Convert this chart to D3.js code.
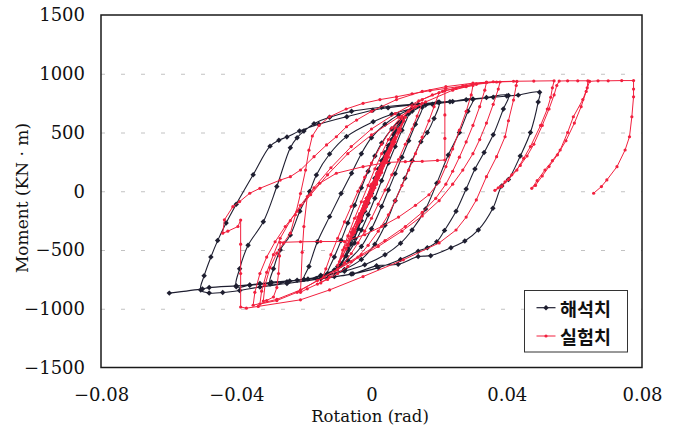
<!DOCTYPE html>
<html>
<head>
<meta charset="utf-8">
<script src="https://cdn.jsdelivr.net/npm/d3@7"></script>
<style>
  body { margin: 0; background: #fff; }
  svg { display: block; }
</style>
</head>
<body>
<svg id="chart" width="677" height="428"></svg>
<script>
// Axis ticks and labels
const xTicks = [-0.08, -0.04, 0, 0.04, 0.08];
const xTickLabels = ["\u22120.08", "\u22120.04", "0", "0.04", "0.08"];
const yTicks = [-1500, -1000, -500, 0, 500, 1000, 1500];
const yTickLabels = ["\u22121500", "\u22121000", "\u2212500", "0", "500", "1000", "1500"];
const gridValues = [-1000, -500, 0, 500, 1000];
const seriesNames = ["해석치", "실험치"];
const xTitle = "Rotation (rad)";
const yTitle = "Moment (KN \u00B7 m)";

// Analysis result: [rotation (rad), moment (kN·m)] along the loading history
const analysis = [
  [0,0],[0.002,160],[0.004,330],
  [0.002,190],[0,40],[-0.002,-120],[-0.0035,-260],[-0.005,-400],
  [-0.003,-250],[-0.001,-100],[0.001,60],[0.003,210],[0.005,370],[0.0065,480],[0.008,580],
  [0.006,440],[0.004,290],[0.002,140],[0,-20],[-0.002,-170],[-0.004,-320],[-0.006,-450],[-0.0075,-550],[-0.009,-630],
  [-0.007,-490],[-0.005,-350],[-0.003,-200],[-0.001,-50],[0.001,110],[0.003,260],[0.005,390],[0.007,500],[0.009,590],[0.011,660],
  [0.009,520],[0.007,380],[0.005,240],[0.003,90],[0.001,-60],[-0.001,-200],[-0.003,-330],[-0.005,-440],[-0.0075,-550],[-0.010,-640],[-0.013,-700],
  [-0.011,-560],[-0.009,-420],[-0.007,-270],[-0.005,-120],[-0.003,30],[-0.001,170],[0.001,300],[0.003,410],[0.006,530],[0.009,620],[0.012,680],[0.015,715],
  [0.013,570],[0.011,430],[0.009,290],[0.007,150],[0.005,10],[0.003,-130],[0,-320],[-0.003,-470],[-0.007,-590],[-0.011,-670],[-0.015,-715],[-0.020,-750],
  [-0.0185,-640],[-0.016,-430],[-0.0124,-216],[-0.009,-20],[-0.0059,153],[-0.003,320],[0,456],[0.004,570],[0.008,650],[0.012,700],[0.016,735],[0.020,757],
  [0.0185,620],[0.0165,500],[0.0146,422],[0.012,260],[0.0099,110],[0.007,-80],[0.004,-290],[0.001,-450],[-0.003,-580],[-0.008,-665],[-0.013,-710],[-0.020,-750],[-0.025,-770],[-0.030,-790],
  [-0.029,-660],[-0.027,-500],[-0.024,-372],[-0.0212,-170],[-0.0183,-3],[-0.0163,139],[-0.0124,317],[-0.0074,465],[0.0005,592],[0.006,655],[0.012,705],[0.018,740],[0.024,763],[0.030,785],
  [0.0285,680],[0.026,500],[0.0227,309],[0.0193,68],[0.016,-150],[0.012,-330],[0.0086,-442],[0.004,-540],[-0.002,-625],[-0.008,-680],[-0.015,-725],[-0.022,-758],[-0.030,-785],[-0.036,-800],[-0.040,-812],
  [-0.039,-660],[-0.0365,-460],[-0.032,-260],[-0.028,40],[-0.024,371],[-0.022,456],[-0.020,512],[-0.017,575],[-0.0124,630],[-0.0059,680],[0.003,715],[0.012,740],[0.020,757],[0.028,778],[0.034,798],[0.0405,815],
  [0.039,700],[0.036,480],[0.0333,330],[0.0306,189],[0.028,20],[0.025,-170],[0.0216,-333],[0.0193,-430],[0.0165,-480],[0.0138,-510],[0.0086,-580],[0.002,-650],[-0.006,-705],[-0.015,-745],[-0.025,-785],[-0.033,-815],[-0.039,-845],[-0.044,-862],[-0.048,-866],[-0.0505,-840],
  [-0.0495,-720],[-0.0475,-560],[-0.0455,-420],[-0.043,-270],[-0.040,-110],[-0.035,140],[-0.030,384],[-0.0274,435],[-0.025,461],[-0.0213,512],[-0.0156,570],[-0.0073,635],[0.0004,690],[0.0049,711],[0.0138,740],[0.0197,757],[0.0232,762],[0.030,782],[0.036,800],[0.040,810],[0.0434,818],[0.0497,842],
  [0.0493,760],[0.047,500],[0.044,300],[0.0405,100],[0.0385,45],[0.0359,-144],[0.0316,-329],[0.0276,-423],[0.0235,-480],[0.0175,-548],[0.0138,-556],[0.0079,-621],[0.0015,-635],[-0.0055,-703],[-0.011,-726],[-0.0163,-743],[-0.0188,-746],[-0.0242,-763],[-0.0296,-774],[-0.033,-786],[-0.036,-797],[-0.040,-805],[-0.048,-820],[-0.050,-831],[-0.0598,-867]
];

// Test result: [rotation (rad), moment (kN·m)] along the loading history
const experiment = [
  [0,0],[0.0015,95],[0.003,190],
  [0.0015,60],[0,-40],[-0.0015,-130],[-0.003,-190],
  [-0.0015,-60],[0,40],[0.0015,130],[0.003,200],
  [0.0015,70],[0,-35],[-0.0015,-130],[-0.003,-200],
  [-0.0015,-60],[0,60],[0.0015,150],[0.003,240],[0.005,330],
  [0.0035,220],[0.002,110],[0,-30],[-0.002,-160],[-0.0035,-250],[-0.005,-330],
  [-0.0035,-200],[-0.002,-100],[0,40],[0.002,160],[0.0035,250],[0.005,340],
  [0.0035,230],[0.002,120],[0,-30],[-0.002,-160],[-0.0035,-260],[-0.005,-340],
  [-0.003,-180],[-0.001,-50],[0.001,80],[0.003,210],[0.005,330],[0.007,450],
  [0.0055,350],[0.004,250],[0.002,120],[0,-10],[-0.002,-140],[-0.004,-260],[-0.0055,-360],[-0.007,-450],
  [-0.0055,-330],[-0.004,-220],[-0.002,-90],[0,40],[0.002,160],[0.004,280],[0.0055,370],[0.007,460],
  [0.0055,360],[0.004,260],[0.002,130],[0,0],[-0.002,-130],[-0.004,-260],[-0.0055,-360],[-0.007,-460],
  [-0.0055,-320],[-0.0035,-190],[-0.0015,-60],[0.0005,70],[0.0025,200],[0.0045,320],[0.0065,440],[0.008,530],[0.0095,600],
  [0.008,500],[0.0065,400],[0.0045,270],[0.0025,140],[0.0005,10],[-0.0015,-120],[-0.0035,-250],[-0.0055,-370],[-0.0075,-490],[-0.0095,-600],
  [-0.008,-480],[-0.006,-350],[-0.004,-220],[-0.002,-90],[0,40],[0.002,170],[0.004,300],[0.006,420],[0.008,530],[0.010,630],
  [0.0085,520],[0.007,420],[0.005,290],[0.003,160],[0.001,30],[-0.001,-100],[-0.003,-230],[-0.005,-350],[-0.007,-460],[-0.0085,-550],[-0.010,-630],
  [-0.0085,-500],[-0.007,-380],[-0.005,-230],[-0.003,-90],[-0.001,50],[0.001,190],[0.003,320],[0.005,440],[0.007,540],[0.009,620],[0.011,680],[0.013,720],[0.015,750],
  [0.0135,640],[0.012,530],[0.010,400],[0.008,270],[0.006,140],[0.004,10],[0.002,-110],[0,-230],[-0.002,-340],[-0.004,-440],[-0.006,-530],[-0.008,-610],[-0.010,-670],[-0.0125,-730],[-0.015,-780],
  [-0.0135,-660],[-0.012,-540],[-0.010,-400],[-0.008,-260],[-0.006,-130],[-0.004,0],[-0.002,120],[0,240],[0.003,400],[0.006,540],[0.009,640],[0.012,720],[0.015,780],[0.018,820],[0.020,840],
  [0.0185,720],[0.017,600],[0.015,460],[0.013,320],[0.011,180],[0.009,50],[0.007,-80],[0.005,-200],[0.002,-340],[-0.001,-460],[-0.004,-560],[-0.007,-640],[-0.010,-700],[-0.013,-750],[-0.016,-790],[-0.019,-830],[-0.021,-860],
  [-0.0205,-520],[-0.020,-300],[-0.019,-46],[-0.0153,68],[-0.0104,153],[-0.0025,209],[0.0045,245],[0.010,252],[0.015,255],[0.0195,262],[0.0217,266],[0.0217,450],[0.0217,650],[0.0217,856],[0.025,875],[0.028,890],[0.030,900],
  [0.0295,820],[0.028,680],[0.026,520],[0.024,360],[0.022,210],[0.020,80],[0.017,-30],[0.013,-120],[0.008,-220],[0.003,-300],[-0.002,-370],[-0.008,-428],[-0.015,-428],[-0.021,-430],[-0.027,-435],[-0.0272,-550],[-0.0275,-700],[-0.028,-820],[-0.029,-900],[-0.031,-930],[-0.032,-935],
  [-0.0315,-800],[-0.030,-650],[-0.028,-527],[-0.026,-440],[-0.024,-357],[-0.0225,-200],[-0.021,-20],[-0.0195,180],[-0.0185,350],[-0.0175,470],[-0.0155,560],[-0.0124,634],[-0.0075,700],[-0.0025,748],[0.0025,780],[0.0074,804],[0.012,830],[0.0173,856],[0.022,875],[0.027,895],[0.031,915],[0.034,928],
  [0.0335,860],[0.032,720],[0.030,560],[0.028,420],[0.026,290],[0.024,170],[0.022,60],[0.019,-60],[0.015,-180],[0.010,-300],[0.004,-420],[-0.003,-540],[-0.010,-660],[-0.016,-760],[-0.022,-860],[-0.028,-930],[-0.033,-960],
  [-0.0325,-850],[-0.031,-690],[-0.029,-540],[-0.027,-400],[-0.024,-250],[-0.021,-120],[-0.017,30],[-0.012,200],[-0.006,380],[0,530],[0.007,660],[0.014,770],[0.021,850],[0.028,900],[0.034,925],[0.038,930],
  [0.0375,870],[0.036,740],[0.034,580],[0.032,440],[0.030,320],[0.027,180],[0.024,60],[0.020,-80],[0.015,-210],[0.009,-340],[0.002,-470],[-0.006,-600],[-0.014,-730],[-0.021,-840],[-0.028,-920],[-0.035,-970],
  [-0.0345,-860],[-0.033,-700],[-0.031,-560],[-0.0285,-430],[-0.0255,-300],[-0.022,-170],[-0.018,-30],[-0.013,140],[-0.007,320],[0,480],[0.008,630],[0.016,760],[0.024,860],[0.031,910],[0.037,930],[0.043,935],
  [0.0428,900],[0.042,776],[0.0405,600],[0.0395,464],[0.037,294],[0.034,124],[0.031,-74],[0.028,-220],[0.025,-330],[0.020,-440],[0.0094,-584],[-0.0025,-726],[-0.0124,-840],[-0.021,-924],[-0.0335,-980],[-0.037,-995],[-0.0387,-985],
  [-0.0387,-700],[-0.0387,-450],[-0.0387,-245],[-0.0395,-300],[-0.0425,-340],[-0.044,-357],[-0.0435,-243],[-0.041,-131],[-0.039,-88],[-0.036,-17],[-0.033,25],[-0.027,95],[-0.024,124],[-0.021,181],[-0.017,294],[-0.0133,394],[-0.0104,464],[-0.0074,549],[-0.0044,606],[0,680],[0.0074,780],[0.015,850],[0.022,890],[0.030,920],[0.036,932],[0.042,936],[0.048,938],[0.054,940],
  [0.0535,880],[0.053,800],[0.052,700],[0.050,560],[0.047,380],[0.045,280],[0.043,180],[0.0405,100],[0.0385,40],[0.0365,8],
  [0.0375,30],[0.0395,80],[0.0415,140],[0.044,220],[0.046,300],[0.048,400],[0.0505,560],[0.0525,700],[0.054,820],[0.0548,900],[0.0555,938],[0.058,940],[0.061,940],[0.064,940],
  [0.0638,880],[0.0625,780],[0.0597,634],[0.058,500],[0.0558,351],[0.0535,260],[0.0513,181],[0.049,90],[0.0474,25],
  [0.0485,50],[0.0505,130],[0.0525,210],[0.055,310],[0.0575,430],[0.060,580],[0.062,720],[0.0635,850],[0.0645,935],[0.067,940],[0.070,940],[0.074,942],[0.0775,942],
  [0.0775,870],[0.0775,804],[0.077,634],[0.0763,464],[0.075,351],[0.0726,209],[0.0696,96],[0.068,40],[0.0657,-17]
];

const colors = { analysis: "#1e1e30", experiment: "#f2203e" };
const plot = { left: 101, right: 642, top: 15, bottom: 367.5 };

const svg = d3.select("#chart");
const x = d3.scaleLinear().domain([-0.08, 0.08]).range([plot.left, plot.right]);
const y = d3.scaleLinear().domain([-1500, 1500]).range([plot.bottom, plot.top]);

// dashed horizontal grid
svg.append("g")
  .attr("transform", `translate(${plot.left},0)`)
  .call(d3.axisLeft(y).tickValues(gridValues).tickSize(-(plot.right - plot.left)).tickFormat(""))
  .call(g => g.select(".domain").remove())
  .selectAll("line")
  .attr("stroke", "#c2c2c2")
  .attr("stroke-width", 1)
  .attr("stroke-dasharray", "4,16");

// y axis labels
svg.append("g")
  .attr("transform", `translate(${plot.left},0)`)
  .call(d3.axisLeft(y).tickValues(yTicks).tickSize(0).tickPadding(16)
    .tickFormat((d, i) => yTickLabels[i]))
  .call(g => g.select(".domain").remove())
  .selectAll("text")
  .attr("font-family", "'DejaVu Serif', serif")
  .attr("font-size", 18)
  .attr("fill", "#111");

// x axis labels
svg.append("g")
  .attr("transform", `translate(0,${plot.bottom})`)
  .call(d3.axisBottom(x).tickValues(xTicks).tickSize(0).tickPadding(21)
    .tickFormat((d, i) => xTickLabels[i]))
  .call(g => g.select(".domain").remove())
  .selectAll("text")
  .attr("font-family", "'DejaVu Serif', serif")
  .attr("font-size", 18)
  .attr("fill", "#111");

// axis titles
svg.append("text")
  .attr("x", 370).attr("y", 422)
  .attr("text-anchor", "middle")
  .attr("font-family", "'DejaVu Serif', serif")
  .attr("font-size", 16.5)
  .attr("fill", "#111")
  .text(xTitle);

svg.append("text")
  .attr("transform", "translate(28,198) rotate(-90)")
  .attr("text-anchor", "middle")
  .attr("font-family", "'DejaVu Serif', serif")
  .attr("font-size", 17)
  .attr("fill", "#111")
  .text(yTitle);

const smooth = d3.line().x(d => x(d[0])).y(d => y(d[1])).curve(d3.curveCatmullRom.alpha(0.5));
const straight = d3.line().x(d => x(d[0])).y(d => y(d[1]));
const diamond = d3.symbol().type(d3.symbolSquare).size(15);

// analysis curve
svg.append("path")
  .datum(analysis)
  .attr("d", smooth)
  .attr("fill", "none")
  .attr("stroke", colors.analysis)
  .attr("stroke-width", 1.1);

svg.append("g").selectAll("path")
  .data(analysis)
  .join("path")
  .attr("d", diamond)
  .attr("transform", d => `translate(${x(d[0])},${y(d[1])}) rotate(45)`)
  .attr("fill", colors.analysis);

// test curve
svg.append("path")
  .datum(experiment)
  .attr("d", straight)
  .attr("fill", "none")
  .attr("stroke", colors.experiment)
  .attr("stroke-width", 1)
  .attr("stroke-linejoin", "round");

svg.append("g").selectAll("circle")
  .data(experiment)
  .join("circle")
  .attr("cx", d => x(d[0]))
  .attr("cy", d => y(d[1]))
  .attr("r", 1.6)
  .attr("fill", colors.experiment);

// plot frame
svg.append("rect")
  .attr("x", plot.left).attr("y", plot.top)
  .attr("width", plot.right - plot.left)
  .attr("height", plot.bottom - plot.top)
  .attr("fill", "none")
  .attr("stroke", "#1a1a1a")
  .attr("stroke-width", 1.5);

// legend
const legend = svg.append("g");
legend.append("rect")
  .attr("x", 524.5).attr("y", 290.5)
  .attr("width", 103).attr("height", 61.5)
  .attr("fill", "#fff")
  .attr("stroke", "#333")
  .attr("stroke-width", 1);

const legendRows = [
  { name: seriesNames[0], key: "analysis", cy: 307.7 },
  { name: seriesNames[1], key: "experiment", cy: 336 }
];
legendRows.forEach(r => {
  legend.append("line")
    .attr("x1", 536.5).attr("x2", 555.5)
    .attr("y1", r.cy).attr("y2", r.cy)
    .attr("stroke", colors[r.key])
    .attr("stroke-width", r.key === "analysis" ? 1.2 : 1);
  if (r.key === "analysis") {
    legend.append("path")
      .attr("d", diamond)
      .attr("transform", `translate(546,${r.cy}) rotate(45)`)
      .attr("fill", colors.analysis);
  } else {
    legend.append("circle")
      .attr("cx", 546).attr("cy", r.cy).attr("r", 1.6)
      .attr("fill", colors.experiment);
  }
  legend.append("text")
    .attr("x", 560).attr("y", r.cy)
    .attr("dominant-baseline", "central")
    .attr("font-family", "'Noto Sans CJK KR', sans-serif")
    .attr("font-weight", "bold")
    .attr("font-size", 18.5)
    .attr("fill", "#111")
    .text(r.name);
});
</script>
</body>
</html>
